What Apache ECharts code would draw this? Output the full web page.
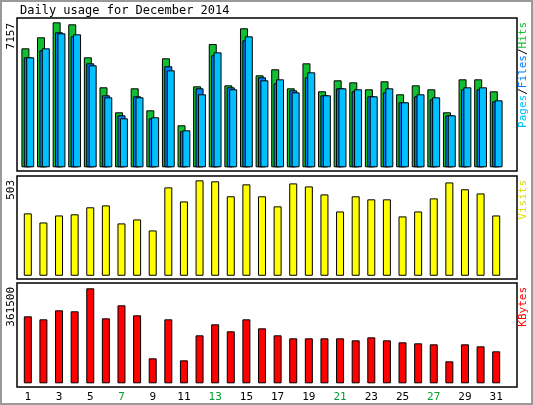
<!DOCTYPE html><html><head><meta charset="utf-8">
<script src="https://cdn.jsdelivr.net/npm/echarts@6/dist/echarts.min.js"></script>
<style>html,body{margin:0;padding:0;background:#fff}#c{width:533px;height:405px}</style></head><body><div id="c"></div>
<script>
const days=['1','2','3','4','5','6','7','8','9','10','11','12','13','14','15','16','17','18','19','20','21','22','23','24','25','26','27','28','29','30','31'];
const weekend=['6','7','13','14','20','21','27','28'];
const hits=[5873,6416,7157,7058,5429,3949,2715,3899,2813,5380,2073,3998,6087,4047,6861,4541,4837,3899,5133,3751,4294,4195,3850,4245,3603,4047,3850,2715,4343,4343,3751];
const files=[5429,5775,6663,6466,5133,3553,2566,3504,2418,4985,1777,3899,5527,3948,6268,4442,4145,3800,4442,3553,3899,3751,3504,3701,3208,3504,3356,2566,3850,3850,3257];
const pages=[5429,5873,6613,6564,5034,3455,2418,3455,2468,4787,1826,3603,5675,3850,6465,4294,4343,3701,4688,3553,3899,3850,3504,3899,3208,3603,3455,2566,3948,3948,3307];
const visits=[329,281,318,324,361,371,276,297,239,466,392,503,498,419,482,419,366,487,471,429,339,419,403,403,313,339,408,492,456,434,318];
const kbytes=[254953,243536,277784,273979,361500,247342,296810,258758,95131,243536,87521,182653,224511,197874,243536,209289,182653,171237,171237,171237,171237,163626,175042,163626,156016,152210,148405,83716,148405,140795,121768];
const maxLabels=['7157','503','361500'];
const title='Daily usage for December 2014';
const F='DejaVu Sans Mono';
const ch=echarts.init(document.getElementById('c'));
const bs={borderColor:'#000',borderWidth:1};
const xa=(i,show)=>({type:'category',gridIndex:i,data:days,axisLine:{show:false},axisTick:{show:false},
 axisLabel:{show:show,margin:5,fontFamily:F,fontSize:11,color:(v)=>weekend.includes(v)?'#00a030':'#000'}});
const ya=(i,min,max)=>({type:'value',gridIndex:i,min:min,max:max,show:false,splitLine:{show:false}});
const frame=(y,h)=>({type:'rect',shape:{x:17,y:y,width:500,height:h},style:{fill:'none',stroke:'#000',lineWidth:1.5},z:10});
const rt=(x,y,t,extra)=>Object.assign({type:'text',x:x,y:y,rotation:Math.PI/2,style:{text:t,font:'11px '+F,fill:'#000',align:'right',verticalAlign:'middle'}},extra||{});
ch.setOption({
 animation:false,
 grid:[{left:20,right:29,top:18,height:153},{left:20,right:29,top:176,height:103},{left:20,right:29,top:283,height:104}],
 xAxis:[xa(0,false),xa(1,false),xa(2,true)],
 yAxis:[ya(0,-183,7370),ya(1,-17,526),ya(2,-14000,381700)],
 series:[
  {type:'bar',name:'Hits',xAxisIndex:0,yAxisIndex:0,data:hits,barWidth:8,barGap:'-70%',itemStyle:Object.assign({color:'#10c030'},bs)},
  {type:'bar',name:'Files',xAxisIndex:0,yAxisIndex:0,data:files,barWidth:8,barGap:'-70%',itemStyle:Object.assign({color:'#0080ff'},bs)},
  {type:'bar',name:'Pages',xAxisIndex:0,yAxisIndex:0,data:pages,barWidth:8,barGap:'-70%',itemStyle:Object.assign({color:'#00c0ff'},bs)},
  {type:'bar',name:'Visits',xAxisIndex:1,yAxisIndex:1,data:visits,barWidth:8,itemStyle:Object.assign({color:'#ffff00'},bs)},
  {type:'bar',name:'KBytes',xAxisIndex:2,yAxisIndex:2,data:kbytes,barWidth:8,itemStyle:Object.assign({color:'#ff0000'},bs)}
 ],
 graphic:[
  {type:'rect',shape:{x:1,y:1,width:531,height:403},style:{fill:'none',stroke:'#999',lineWidth:2}},
  frame(18,153),frame(176,103),frame(283,104),
  {type:'text',x:20,y:5,style:{text:title,font:'12px '+F,fill:'#000'}},
  rt(11,23,maxLabels[0]),rt(11,180,maxLabels[1]),rt(11,287,maxLabels[2]),
  rt(523,22,'',{style:{text:'{p|Pages}{s|/}{f|Files}{s|/}{h|Hits}',font:'11px '+F,align:'right',verticalAlign:'middle',
    rich:{p:{fill:'#00c0ff',font:'11px '+F},f:{fill:'#0080ff',font:'11px '+F},h:{fill:'#10c030',font:'11px '+F},s:{fill:'#000',font:'11px '+F}}}}),
  rt(523,180,'',{style:{text:'Visits',font:'11px '+F,fill:'#e0e000',align:'right',verticalAlign:'middle'}}),
  rt(523,287,'',{style:{text:'KBytes',font:'11px '+F,fill:'#ff0000',align:'right',verticalAlign:'middle'}})
 ]
});
</script></body></html>
